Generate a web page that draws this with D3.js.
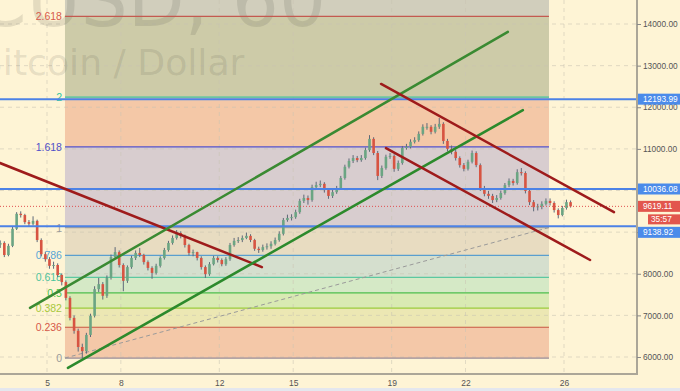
<!DOCTYPE html>
<html><head><meta charset="utf-8">
<script src="https://cdn.jsdelivr.net/npm/d3@7"></script>
<style>body{margin:0;background:#FEF4D5;overflow:hidden}</style>
</head><body><svg id="c" width="680" height="391"></svg>
<script>
// ---------------- DATA ----------------
const symbolTitle = "BTCUSD, 60";
const symbolName = "Bitcoin / Dollar";
const startDay = 3.1;          // day-of-month of first 4h candle
const candleStepDays = 1 / 6;  // 4 hours
const firstOpen = 8700;
const closes = [
8740,8450,8670,9080,9440,9410,9240,9200,9270,8810,
8470,8350,8190,8210,7970,7800,7420,6940,6630,6240,
6140,6530,6990,7630,7750,7470,7900,8400,8520,8210,
7830,8160,8380,8500,8450,8280,8140,8020,8190,8380,
8570,8740,8860,8980,8910,8690,8500,8520,8380,8160,
7990,8230,8380,8330,8230,8350,8690,8790,8810,8860,
8910,8810,8600,8570,8640,8660,8720,8810,8960,9290,
9340,9360,9480,9750,9820,9770,10080,10130,10160,10010,
9870,9960,10060,10300,10570,10710,10780,10730,10780,10970,
11240,10900,10350,10540,10810,10830,10520,10660,11020,11050,
11170,11210,11360,11530,11530,11410,11530,11600,11190,11000,
10930,10780,10610,10520,10690,10900,10610,10060,9920,9870,
9770,9820,9940,10130,10230,10180,10440,10420,9990,9720,
9600,9620,9680,9750,9700,9530,9410,9580,9720,9619.11
];
const highs = [
8800,8780,8720,9130,9480,9500,9440,9290,9380,9300,
8850,8520,8400,8290,8250,8010,7840,7460,7000,6680,
6320,6580,7040,7700,7900,7800,7960,8460,8640,8560,
8250,8200,8430,8560,8620,8480,8320,8180,8240,8420,
8620,8790,8920,9050,9020,8940,8720,8580,8530,8420,
8200,8280,8430,8420,8370,8400,8740,8860,8880,8920,
8990,8950,8840,8650,8700,8730,8780,8870,9020,9340,
9420,9430,9540,9800,9900,9880,10140,10210,10240,10200,
10060,10020,10110,10350,10620,10770,10850,10830,10850,11030,
11330,11280,10950,10600,10860,10900,10870,10720,11070,11120,
11230,11280,11420,11590,11620,11570,11600,11740,11640,11240,
11080,10980,10820,10660,10740,10960,10940,10650,10110,9990,
9920,9890,10000,10180,10290,10280,10510,10540,10460,10030,
9770,9680,9740,9810,9810,9740,9570,9630,9780,9760
];
const lows = [
8620,8400,8420,8640,9050,9350,9190,9130,9160,8760,
8420,8290,8120,8120,7920,7720,7360,6880,6560,6130,
5975,6080,6480,6950,7560,7380,7420,7860,8360,8150,
7580,7780,8120,8330,8400,8220,8080,7880,7980,8150,
8340,8530,8700,8820,8850,8630,8440,8420,8320,8100,
7900,7950,8200,8270,8180,8190,8310,8650,8740,8760,
8830,8760,8550,8500,8530,8580,8600,8680,8770,8920,
9250,9280,9320,9440,9700,9660,9730,10030,10080,9950,
9800,9820,9920,10020,10260,10530,10660,10680,10690,10740,
10930,10850,10250,10300,10500,10760,10450,10470,10620,10980,
11010,11130,11170,11320,11460,11350,11370,11480,11120,10940,
10870,10720,10550,10460,10480,10650,10560,9990,9860,9800,
9700,9720,9780,9900,10080,10120,10140,10360,9930,9650,
9500,9520,9550,9640,9640,9470,9330,9380,9540,9590
];
const xTicks = [5, 8, 12, 15, 19, 22, 26];
const yTicks = [6000, 7000, 8000, 9000, 11000, 12000, 13000, 14000]; // 10000 is hidden behind a price tag
const gridY = [6000, 7000, 8000, 9000, 10000, 11000, 12000, 13000, 14000];
const fibLevels = [0, 0.236, 0.382, 0.5, 0.618, 0.786, 1, 1.618, 2, 2.618, 3.618];
const fibLabels = ["0", "0.236", "0.382", "0.5", "0.618", "0.786", "1", "1.618", "2", "2.618", ""];
const fibLow = 5975, fibHigh = 9110;
const fibStartDay = 5.73, fibEndDay = 25.39;
const priceLines = [12193.99, 10036.08, 9138.92];
const lastPrice = 9619.11;
const countdown = "35:57";
const trendRedLeft = [[3.09, 10660], [13.73, 8160]];
const trendGreenUpper = [[4.31, 7180], [23.72, 13810]];
const trendGreenLower = [[5.85, 5740], [24.33, 11930]];
const trendRedUpper = [[18.57, 12560], [28.03, 9480]];
const trendRedLower = [[18.77, 11020], [27.06, 8330]];

// ---------------- STYLE ----------------
const W = 680, H = 391, plotR = 637, plotB = 374;
const bandColors = ["#F4C8A8","#ECE7B3","#D9EAB3","#D5E9C6","#D5DFCE","#E8DCC1","#D8CDCF","#F4C8A7","#CDCBA8","#D1CEBC"];
const lineColors = ["#9A8C98","#C8553F","#9CCB3C","#4CBE4C","#5CC8A0","#5A9FCF","#A7A29A","#5252CC","#3CC3A0","#C45A50"];
const labelColors = ["#9A9A9A","#D65A4A","#A8C83C","#4CC34C","#4CC39C","#58A6D6","#9A9A9A","#5050C8","#30C8A0","#D65A4A"];

const x = d3.scaleLinear().domain([5, 26]).range([47, 564]);
const y = d3.scaleLinear().domain([6000, 14000]).range([357, 24]);

const svg = d3.select("#c");
svg.append("rect").attr("width", W).attr("height", H).attr("fill", "#FEF4D5");
svg.append("rect").attr("y", 388).attr("width", W).attr("height", 3).attr("fill", "#E4E7EE");

svg.append("clipPath").attr("id", "clip").append("rect").attr("width", plotR).attr("height", plotB);
const plot = svg.append("g").attr("clip-path", "url(#clip)");

// fib bands
const fibPrice = l => fibLow + (fibHigh - fibLow) * l;
const fx0 = x(fibStartDay), fx1 = x(fibEndDay);
const bands = d3.range(fibLevels.length - 1).map(i => ({lo: fibLevels[i], hi: fibLevels[i + 1], c: bandColors[i]}));
plot.selectAll(".band").data(bands).join("rect")
  .attr("x", fx0).attr("width", fx1 - fx0)
  .attr("y", d => y(fibPrice(d.hi))).attr("height", d => y(fibPrice(d.lo)) - y(fibPrice(d.hi)))
  .attr("fill", d => d.c);

// grid
plot.selectAll(".gy").data(gridY).join("line")
  .attr("x1", 0).attr("x2", plotR).attr("y1", d => y(d)).attr("y2", d => y(d))
  .attr("stroke", "#C9C2B2").attr("stroke-opacity", 0.55).attr("stroke-dasharray", "4,4");
plot.selectAll(".gx").data(xTicks).join("line")
  .attr("x1", d => x(d)).attr("x2", d => x(d)).attr("y1", 0).attr("y2", plotB)
  .attr("stroke", "#C9C2B2").attr("stroke-opacity", 0.55).attr("stroke-dasharray", "4,4");

// watermark
plot.append("text").text(symbolTitle).attr("x", 326).attr("y", 26).attr("text-anchor", "end")
  .attr("font-family", "DejaVu Sans").attr("font-size", 74).attr("fill", "rgba(80,80,70,0.15)");
plot.append("text").text(symbolName).attr("x", -22).attr("y", 75).attr("text-anchor", "start")
  .attr("font-family", "DejaVu Sans").attr("font-size", 36.2).attr("fill", "rgba(80,80,70,0.15)");

// fib lines + labels
const fibData = fibLevels.slice(0, 10).map((l, i) => ({l, label: fibLabels[i], lc: lineColors[i], tc: labelColors[i]}));
plot.selectAll(".fl").data(fibData).join("line")
  .attr("x1", fx0).attr("x2", fx1).attr("y1", d => y(fibPrice(d.l))).attr("y2", d => y(fibPrice(d.l)))
  .attr("stroke", d => d.lc).attr("stroke-width", 1.2);
plot.selectAll(".ft").data(fibData).join("text")
  .attr("x", fx0 - 3).attr("y", d => y(fibPrice(d.l)) + 4).attr("text-anchor", "end")
  .attr("font-family", "Liberation Sans").attr("font-size", 10.5).attr("fill", d => d.tc)
  .text(d => d.label);
// fib diagonal
plot.append("line").attr("x1", fx0).attr("y1", y(fibLow)).attr("x2", fx1).attr("y2", y(fibHigh))
  .attr("stroke", "#9A9A9A").attr("stroke-width", 1).attr("stroke-dasharray", "4,3");

// candles
const candles = closes.map((c, i) => ({
  t: startDay + i * candleStepDays,
  o: i === 0 ? firstOpen : closes[i - 1], c, h: highs[i], l: lows[i]
}));
const cg = plot.append("g");
cg.selectAll(".wick").data(candles).join("line")
  .attr("x1", d => x(d.t)).attr("x2", d => x(d.t)).attr("y1", d => y(d.h)).attr("y2", d => y(d.l))
  .attr("stroke", "#5E6878").attr("stroke-width", 1);
cg.selectAll(".body").data(candles).join("rect")
  .attr("x", d => x(d.t) - 1.3).attr("width", 2.6)
  .attr("y", d => y(Math.max(d.o, d.c))).attr("height", d => Math.max(1, Math.abs(y(d.o) - y(d.c))))
  .attr("fill", d => d.c >= d.o ? "#6BA583" : "#D75442");

// horizontal price lines
plot.selectAll(".pl").data(priceLines).join("line")
  .attr("x1", 0).attr("x2", plotR).attr("y1", d => y(d)).attr("y2", d => y(d))
  .attr("stroke", "#4C82E6").attr("stroke-width", 2);
plot.append("line").attr("x1", 0).attr("x2", plotR).attr("y1", y(lastPrice)).attr("y2", y(lastPrice))
  .attr("stroke", "#E05050").attr("stroke-width", 1).attr("stroke-dasharray", "1,2");

// trend lines
const lineGen = d3.line().x(d => x(d[0])).y(d => y(d[1]));
const trends = [
  {p: trendRedLeft, c: "#9E1B1B"},
  {p: trendGreenUpper, c: "#3A8A32"},
  {p: trendGreenLower, c: "#2C8A2C"},
  {p: trendRedUpper, c: "#9E1B1B"},
  {p: trendRedLower, c: "#9E1B1B"}
];
plot.selectAll(".tr").data(trends).join("path")
  .attr("d", d => lineGen(d.p)).attr("stroke", d => d.c).attr("stroke-width", 2.5).attr("fill", "none")
  .attr("stroke-linecap", "round");

// borders
svg.append("line").attr("x1", plotR).attr("x2", plotR).attr("y1", 0).attr("y2", plotB + 1)
  .attr("stroke", "#ABA698").attr("stroke-width", 2);
svg.append("line").attr("x1", 0).attr("x2", plotR + 1).attr("y1", plotB).attr("y2", plotB)
  .attr("stroke", "#ABA698").attr("stroke-width", 2);

// axes
const ay = svg.append("g").attr("transform", `translate(${plotR},0)`)
  .call(d3.axisRight(y).tickValues(yTicks).tickFormat(d3.format(".2f")).tickSize(4).tickPadding(2));
ay.select(".domain").remove();
ay.selectAll("line").attr("stroke", "#888");
ay.selectAll("text").attr("font-family", "Liberation Sans").attr("font-size", 8.3).attr("fill", "#555");

const ax = svg.append("g").attr("transform", `translate(0,${plotB})`)
  .call(d3.axisBottom(x).tickValues(xTicks).tickFormat(d3.format("d")).tickSize(0).tickPadding(6));
ax.select(".domain").remove();
ax.selectAll("text").attr("font-family", "Liberation Sans").attr("font-size", 8.5).attr("fill", "#555");

// price tags
const tagData = priceLines.map((p, i) => ({p, label: d3.format(".2f")(p), c: "#4B8BEA", shift: i === 2 ? 6 : 0}));
tagData.push({p: lastPrice, label: d3.format(".2f")(lastPrice), c: "#E2564D", shift: 0});
const tg = svg.append("g");
tg.selectAll("rect").data(tagData).join("rect")
  .attr("x", plotR + 1).attr("width", W - plotR).attr("y", d => y(d.p) - 5.5 + d.shift).attr("height", 11)
  .attr("fill", d => d.c);
tg.selectAll("text").data(tagData).join("text")
  .attr("x", 643).attr("y", d => y(d.p) + 3 + d.shift).text(d => d.label)
  .attr("font-family", "Liberation Sans").attr("font-size", 8.3).attr("fill", "#fff");
svg.append("rect").attr("x", 648).attr("width", 32).attr("y", y(lastPrice) + 8).attr("height", 10).attr("fill", "#E2564D");
svg.append("text").attr("x", 651).attr("y", y(lastPrice) + 16).text(countdown)
  .attr("font-family", "Liberation Sans").attr("font-size", 8.3).attr("fill", "#fff");
</script>
</body></html>
